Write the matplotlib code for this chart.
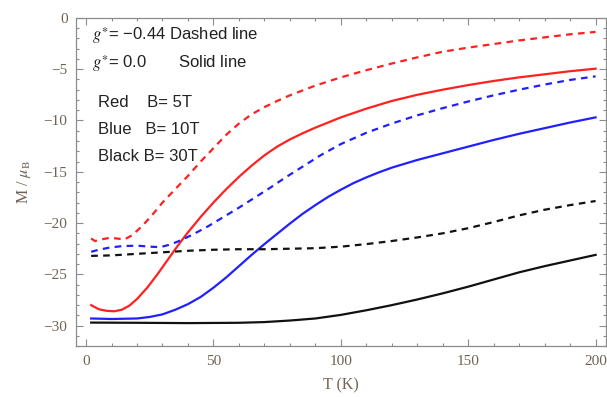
import numpy as np
import matplotlib
matplotlib.use('Agg')
import matplotlib.pyplot as plt
from matplotlib.ticker import MultipleLocator

plt.rcParams['mathtext.fontset'] = 'stix'

# ---------------- data ----------------
# g* = 0.0 (solid) and g* = -0.44 (dashed), B = 5T / 10T / 30T
T_red_solid = [2, 5, 8, 11, 14, 17, 20, 24, 28, 32, 36, 40, 45, 50, 55, 60, 65, 70, 75, 80,
               85, 90, 100, 110, 120, 130, 140, 150, 160, 170, 180, 190, 200]
M_red_solid = [-28.0, -28.4, -28.55, -28.6, -28.45, -28.05, -27.4, -26.3, -25.0, -23.6, -22.2,
               -20.9, -19.4, -18.0, -16.7, -15.5, -14.4, -13.4, -12.55, -11.85,
               -11.25, -10.7, -9.7, -8.85, -8.1, -7.5, -7.0, -6.55, -6.15, -5.8, -5.5, -5.2, -4.95]

T_red_dash = [2, 3.5, 6, 9, 12, 15, 18, 22, 26, 30, 35, 40, 45, 50, 55, 60, 65, 70, 75, 80,
              90, 100, 110, 120, 130, 140, 150, 160, 170, 180, 190, 200]
M_red_dash = [-21.5, -21.75, -21.6, -21.45, -21.5, -21.6, -21.2, -20.3, -19.2, -18.0, -16.7,
              -15.4, -14.0, -12.7, -11.4, -10.3, -9.4, -8.7, -8.1, -7.55,
              -6.6, -5.8, -5.1, -4.45, -3.85, -3.3, -2.9, -2.55, -2.2, -1.9, -1.6, -1.37]

T_blue_solid = [2, 10, 20, 25, 30, 35, 40, 45, 50, 55, 60, 65, 70, 75, 80, 85, 90, 95, 100,
                105, 110, 115, 120, 130, 140, 150, 160, 170, 180, 190, 200]
M_blue_solid = [-29.3, -29.35, -29.3, -29.15, -28.9, -28.45, -27.9, -27.2, -26.3, -25.3, -24.2,
                -23.1, -22.05, -21.05, -20.05, -19.1, -18.25, -17.45, -16.75,
                -16.1, -15.55, -15.05, -14.6, -13.85, -13.2, -12.55, -11.9, -11.3, -10.75, -10.2, -9.7]

T_blue_dash = [2, 5, 9, 14, 20, 25, 29, 33, 37, 42, 48, 54, 60, 66, 72, 78, 85, 92, 100,
               110, 120, 130, 140, 150, 160, 170, 180, 190, 200]
M_blue_dash = [-22.8, -22.6, -22.4, -22.25, -22.2, -22.3, -22.35, -22.1, -21.7, -21.1, -20.3,
               -19.4, -18.5, -17.55, -16.6, -15.6, -14.5, -13.4, -12.3,
               -11.2, -10.3, -9.5, -8.8, -8.15, -7.55, -7.0, -6.5, -6.05, -5.7]

T_black_solid = [2, 20, 40, 60, 70, 80, 90, 100, 110, 120, 130, 140, 150, 160, 170, 180, 190, 200]
M_black_solid = [-29.7, -29.72, -29.75, -29.72, -29.65, -29.5, -29.3, -28.95, -28.5, -28.0,
                 -27.45, -26.85, -26.2, -25.5, -24.8, -24.2, -23.65, -23.1]

T_black_dash = [2, 10, 20, 30, 40, 50, 60, 70, 80, 90, 100, 110, 120, 130, 140, 150, 160,
                170, 180, 190, 200]
M_black_dash = [-23.2, -23.15, -23.0, -22.85, -22.7, -22.6, -22.55, -22.55, -22.5, -22.45,
                -22.3, -22.05, -21.75, -21.4, -21.0, -20.5, -19.9, -19.25, -18.7, -18.25, -17.85]

# ---------------- plot ----------------
fig = plt.figure(figsize=(6.07, 3.97), dpi=100)
ax = fig.add_axes([0.125, 0.128, 0.873, 0.827])

lw = 1.6
dash = (3.0, 2.4)
ax.plot(T_red_dash, M_red_dash, color='#ff2020', lw=lw, dashes=dash)
ax.plot(T_red_solid, M_red_solid, color='#ff2020', lw=lw)
ax.plot(T_blue_dash, M_blue_dash, color='#2020ff', lw=lw, dashes=dash)
ax.plot(T_blue_solid, M_blue_solid, color='#2020ff', lw=lw)
ax.plot(T_black_dash, M_black_dash, color='#111111', lw=lw, dashes=dash)
ax.plot(T_black_solid, M_black_solid, color='#111111', lw=lw)

ax.set_xlim(-4, 204)
ax.set_ylim(-32, 0)

ax.xaxis.set_major_locator(MultipleLocator(50))
ax.xaxis.set_minor_locator(MultipleLocator(10))
ax.yaxis.set_major_locator(MultipleLocator(5))
ax.yaxis.set_minor_locator(MultipleLocator(1))

frame_col = '#8c8c8c'
lab_col = '#6e6254'
for s in ax.spines.values():
    s.set_color(frame_col)
    s.set_linewidth(0.9)
ax.tick_params(which='both', direction='in', top=True, right=True, color=frame_col,
               labelcolor=lab_col, width=0.8)
ax.tick_params(which='major', length=5, labelsize=11, pad=6)
ax.tick_params(which='minor', length=2.5)
ax.set_yticks([0, -5, -10, -15, -20, -25, -30])
ax.set_yticklabels(['0', '\u22125', '\u221210', '\u221215', '\u221220', '\u221225', '\u221230'],
                   family='Liberation Serif')
ax.set_xticks([0, 50, 100, 150, 200])
ax.set_xticklabels(['0', '50', '100', '150', '200'], family='Liberation Serif')

ax.set_xlabel('T (K)', family='Liberation Serif', fontsize=11.5, color=lab_col, labelpad=7)
ax.set_ylabel('M / $\\mu_{\\mathrm{B}}$', family='Liberation Serif', fontsize=11.5,
              color=lab_col, labelpad=8)

txt = dict(family='Liberation Sans', fontsize=12, color='#222222', va='center', ha='left')
ax.text(2.5, -1.75, '$g^{\\ast}$= \u22120.44 Dashed line', **txt)
ax.text(2.5, -4.5, '$g^{\\ast}$= 0.0       Solid line', **txt)
ax.text(4.5, -8.25, 'Red    B= 5T', **txt)
ax.text(4.5, -10.9, 'Blue   B= 10T', **txt)
ax.text(4.5, -13.5, 'Black B= 30T', **txt)

fig.savefig('out.png', dpi=100)
